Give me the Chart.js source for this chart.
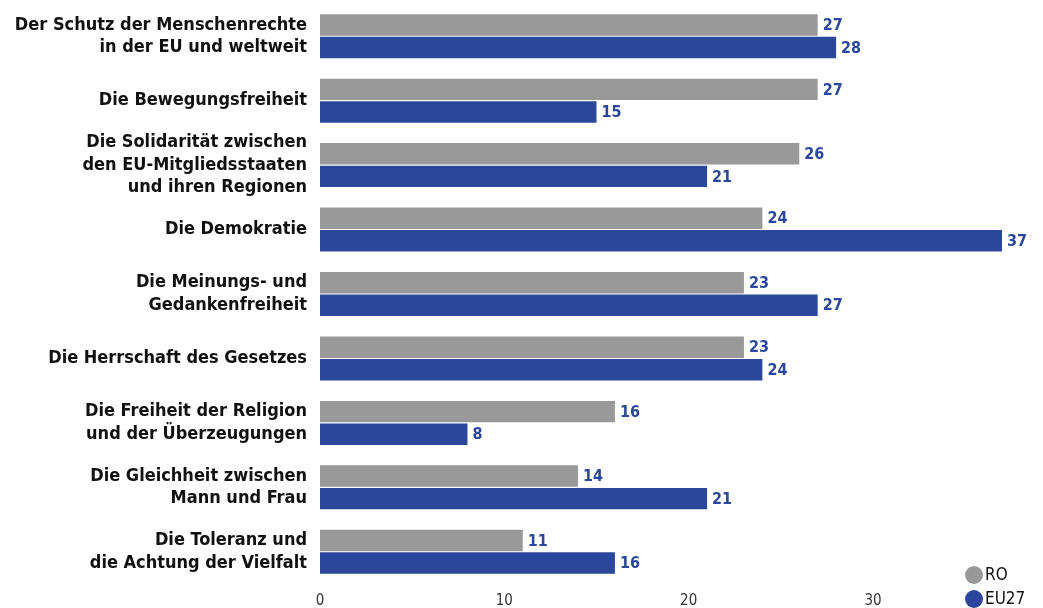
<!DOCTYPE html>
<html>
<head>
<meta charset="utf-8">
<script src="https://cdn.jsdelivr.net/npm/chart.js@4/dist/chart.umd.min.js"></script>
<style>
  html, body { margin: 0; padding: 0; background: #fff; }
  #wrap { width: 1043px; height: 608px; position: relative; }
</style>
</head>
<body>
<div id="wrap"><canvas id="myChart"></canvas></div>
<script>
const categories = [
  ["Der Schutz der Menschenrechte", "in der EU und weltweit"],
  "Die Bewegungsfreiheit",
  ["Die Solidarität zwischen", "den EU-Mitgliedsstaaten", "und ihren Regionen"],
  "Die Demokratie",
  ["Die Meinungs- und", "Gedankenfreiheit"],
  "Die Herrschaft des Gesetzes",
  ["Die Freiheit der Religion", "und der Überzeugungen"],
  ["Die Gleichheit zwischen", "Mann und Frau"],
  ["Die Toleranz und", "die Achtung der Vielfalt"]
];
const roValues = [27, 27, 26, 24, 23, 23, 16, 14, 11];
const eu27Values = [28, 15, 21, 37, 27, 24, 8, 21, 16];
const xTicks = [0, 10, 20, 30];

const FONT = "'Liberation Sans Narrow', 'DejaVu Sans Condensed', sans-serif";
const GRAY = "#999999";
const BLUE = "#2a479c";

// value labels at the end of each bar
const valueLabels = {
  id: "valueLabels",
  afterDatasetsDraw(chart) {
    const ctx = chart.ctx;
    ctx.save();
    ctx.font = "bold 16px " + FONT;
    ctx.fillStyle = BLUE;
    ctx.textBaseline = "middle";
    ctx.textAlign = "left";
    chart.data.datasets.forEach((ds, i) => {
      chart.getDatasetMeta(i).data.forEach((bar, j) => {
        ctx.fillText(ds.data[j], bar.x + 5, bar.y + 1);
      });
    });
    ctx.restore();
  }
};

// stacked legend in the bottom right corner
const cornerLegend = {
  id: "cornerLegend",
  afterDraw(chart) {
    const ctx = chart.ctx;
    ctx.save();
    ctx.font = "17px " + FONT;
    ctx.textBaseline = "middle";
    chart.data.datasets.forEach((ds, i) => {
      const y = 575 + i * 24;
      ctx.fillStyle = ds.backgroundColor;
      ctx.beginPath();
      ctx.arc(974, y, 9, 0, Math.PI * 2);
      ctx.fill();
      ctx.fillStyle = "#111";
      ctx.fillText(ds.label, 985, y + 1);
    });
    ctx.restore();
  }
};

new Chart(document.getElementById("myChart"), {
  type: "bar",
  data: {
    labels: categories,
    datasets: [
      { label: "RO", data: roValues, backgroundColor: GRAY, categoryPercentage: 0.7, barPercentage: 0.95 },
      { label: "EU27", data: eu27Values, backgroundColor: BLUE, categoryPercentage: 0.7, barPercentage: 0.95 }
    ]
  },
  options: {
    indexAxis: "y",
    responsive: true,
    maintainAspectRatio: false,
    animation: false,
    layout: { padding: { top: 4, right: 41, bottom: 0, left: 0 } },
    plugins: {
      legend: { display: false },
      tooltip: { enabled: false }
    },
    scales: {
      x: {
        min: 0,
        max: 37,
        afterBuildTicks(scale) {
          scale.ticks = xTicks.map(v => ({ value: v }));
        },
        afterFit(scale) { scale.height = 24; },
        grid: { display: false, drawTicks: false },
        border: { display: false },
        ticks: {
          color: "#333",
          font: { family: FONT, size: 15 },
          padding: 8
        }
      },
      y: {
        grid: { display: false, drawTicks: false },
        border: { display: false },
        afterFit(scale) {
          scale.width = 320;
          scale.paddingTop = 0;
          scale.paddingBottom = 0;
        },
        ticks: {
          autoSkip: false,
          color: "#111",
          padding: 13,
          font: { family: FONT, size: 18, weight: "bold", lineHeight: 1.25 }
        }
      }
    }
  },
  plugins: [valueLabels, cornerLegend]
});
</script>
</body>
</html>
